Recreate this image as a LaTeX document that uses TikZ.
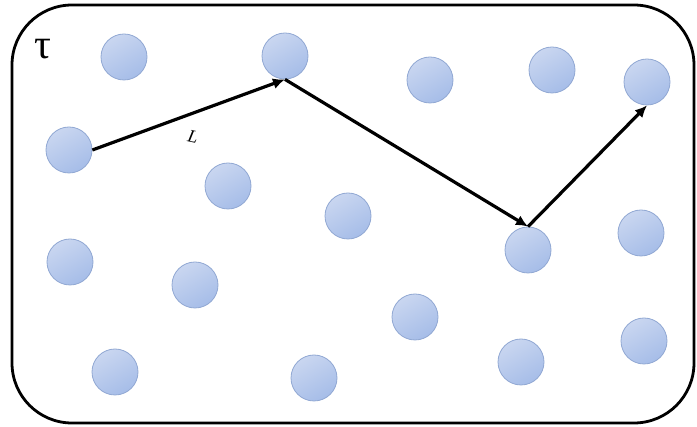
\documentclass[tikz,border=0pt]{standalone}
\usepackage{fontspec}
\newfontfamily\taufont{Liberation Serif}
\usetikzlibrary{arrows.meta}
\definecolor{ballL}{HTML}{C9D6F0}
\definecolor{ballR}{HTML}{A6BDE8}
\definecolor{ballE}{HTML}{91A8D3}
\tikzset{
  ball/.style={circle, minimum size=46pt, inner sep=0pt, draw=ballE, line width=0.8pt,
    left color=ballL, right color=ballR, shading angle=30},
  hop/.style={line width=3.2pt, -{Latex[length=12pt,width=11pt]}},
  frame/.style={line width=2.8pt, rounded corners=60pt}
}
\begin{document}
\begin{tikzpicture}[x=1pt,y=-1pt]
\useasboundingbox (0,0) rectangle (697,427);
\draw[frame] (12,5) rectangle (694,423);
\node (tau) at (43,49) {\taufont\fontsize{42}{42}\selectfont τ};
\node[ball] (b1) at (124,57) {};
\node[ball] (b2) at (69,150) {};
\node[ball] (b3) at (285,56) {};
\node[ball] (b4) at (430,80) {};
\node[ball] (b5) at (552,70) {};
\node[ball] (b6) at (647,82) {};
\node[ball] (b7) at (228,186) {};
\node[ball] (b8) at (348,216) {};
\node[ball] (b9) at (528,250) {};
\node[ball] (b10) at (641,233) {};
\node[ball] (b11) at (70,262) {};
\node[ball] (b12) at (195,285) {};
\node[ball] (b13) at (415,317) {};
\node[ball] (b14) at (115,372) {};
\node[ball] (b15) at (314,378) {};
\node[ball] (b16) at (521,362) {};
\node[ball] (b17) at (644,341) {};
\draw[hop] (b2.east) -- (b3.south);
\draw[hop] (b3.south) -- (b9.north);
\draw[hop] (b9.north) -- (b6.south);
\node[rotate=-12] (lbl) at (193,137) {\taufont\itshape\fontsize{18}{18}\selectfont L};
\end{tikzpicture}
\end{document}
